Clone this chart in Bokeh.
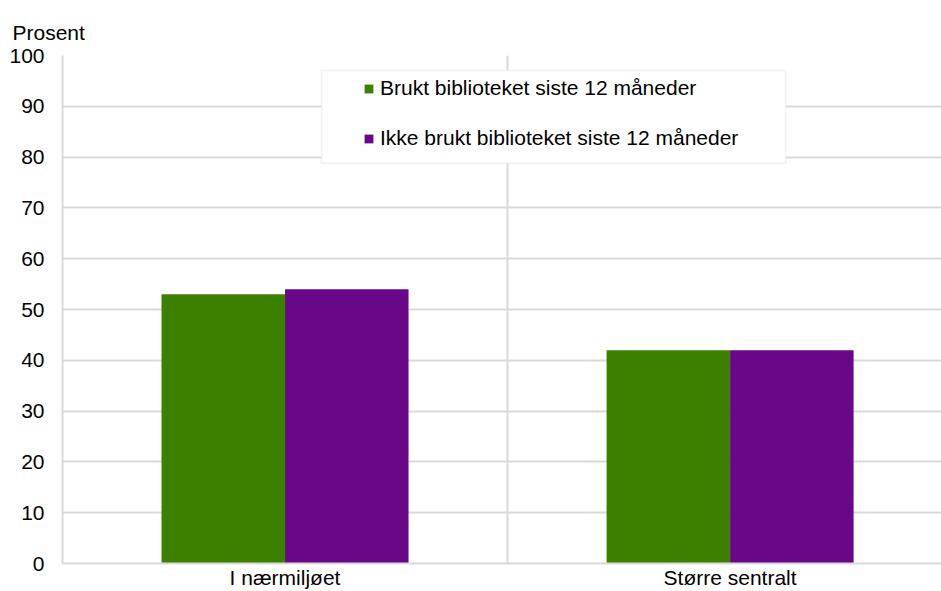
from bokeh.plotting import figure
from bokeh.models import (Range1d, FixedTicker, Legend, LegendItem, BoxAnnotation, ColumnDataSource)
from bokeh.embed import file_html
from bokeh.resources import INLINE

categories = ["I nærmiljøet", "Større sentralt"]
series_names = ["Brukt biblioteket siste 12 måneder", "Ikke brukt biblioteket siste 12 måneder"]
brukt = [53, 42]
ikke_brukt = [54, 42]
y_ticks = [0, 10, 20, 30, 40, 50, 60, 70, 80, 90, 100]

GREEN = "#3d8000"
PURPLE = "#680888"
GRID = "#d9d9d9"
FONT = "Liberation Sans"
FS = "21px"

p = figure(width=941, height=591, output_backend="svg", toolbar_location=None,
           x_range=Range1d(0, 1.975), y_range=Range1d(0, 100),
           min_border_left=62, min_border_right=0, min_border_top=55, min_border_bottom=26)
p.outline_line_color = None

centers = [i + 0.5 for i in range(len(categories))]
bw = 0.2775
src = ColumnDataSource(dict(xg=[c - bw / 2 for c in centers], xp=[c + bw / 2 for c in centers],
                            g=brukt, pu=ikke_brukt))
r1 = p.vbar(x="xg", top="g", width=bw, source=src, fill_color=GREEN, line_color=None)
r2 = p.vbar(x="xp", top="pu", width=bw, source=src, fill_color=PURPLE, line_color=None)

# axes
p.yaxis.ticker = FixedTicker(ticks=y_ticks)
p.yaxis.axis_line_color = GRID
p.yaxis.axis_line_width = 2
p.yaxis.major_tick_out = 0
p.yaxis.major_tick_in = 0
p.yaxis.major_tick_line_color = None
p.yaxis.minor_tick_line_color = None
p.yaxis.major_label_standoff = 18
p.yaxis.major_label_text_font = FONT
p.yaxis.major_label_text_font_size = FS
p.yaxis.major_label_text_color = "#000000"

p.xaxis.ticker = FixedTicker(ticks=centers)
p.xaxis.major_label_overrides = {c: lab for c, lab in zip(centers, categories)}
p.xaxis.axis_line_color = GRID
p.xaxis.axis_line_width = 2
p.xaxis.major_tick_out = 0
p.xaxis.major_tick_in = 0
p.xaxis.major_tick_line_color = None
p.xaxis.minor_tick_line_color = None
p.xaxis.major_label_standoff = 2
p.xaxis.major_label_text_font = FONT
p.xaxis.major_label_text_font_size = FS
p.xaxis.major_label_text_color = "#000000"

p.ygrid.ticker = FixedTicker(ticks=y_ticks)
p.ygrid.grid_line_color = GRID
p.ygrid.grid_line_width = 2
p.xgrid.ticker = FixedTicker(ticks=[1])
p.xgrid.grid_line_color = GRID
p.xgrid.grid_line_width = 2

# unit label above the y axis (as title)
p.title.text = "Prosent"
p.title.text_font = FONT
p.title.text_font_size = FS
p.title.text_font_style = "normal"
p.title.text_color = "#000000"
p.title.align = "left"
p.title.vertical_align = "middle"
p.title.offset = -50
p.title.standoff = 22

# legend box
box = BoxAnnotation(left=0.582, right=1.625, top=97.06, bottom=78.8,
                    fill_color="white", fill_alpha=1.0, line_color=GRID, line_width=2, level="annotation")
p.add_layout(box)

legend = Legend(items=[LegendItem(label=series_names[0], renderers=[r1]),
                       LegendItem(label=series_names[1], renderers=[r2])],
                location=(301, 413), orientation="vertical",
                glyph_width=11, glyph_height=11, label_height=22, spacing=26,
                label_standoff=6, padding=0, margin=0,
                border_line_color=None, background_fill_alpha=0,
                label_text_font=FONT, label_text_font_size=FS, label_text_color="#000000")
p.add_layout(legend)

open("out.html", "w").write(file_html(p, INLINE))
